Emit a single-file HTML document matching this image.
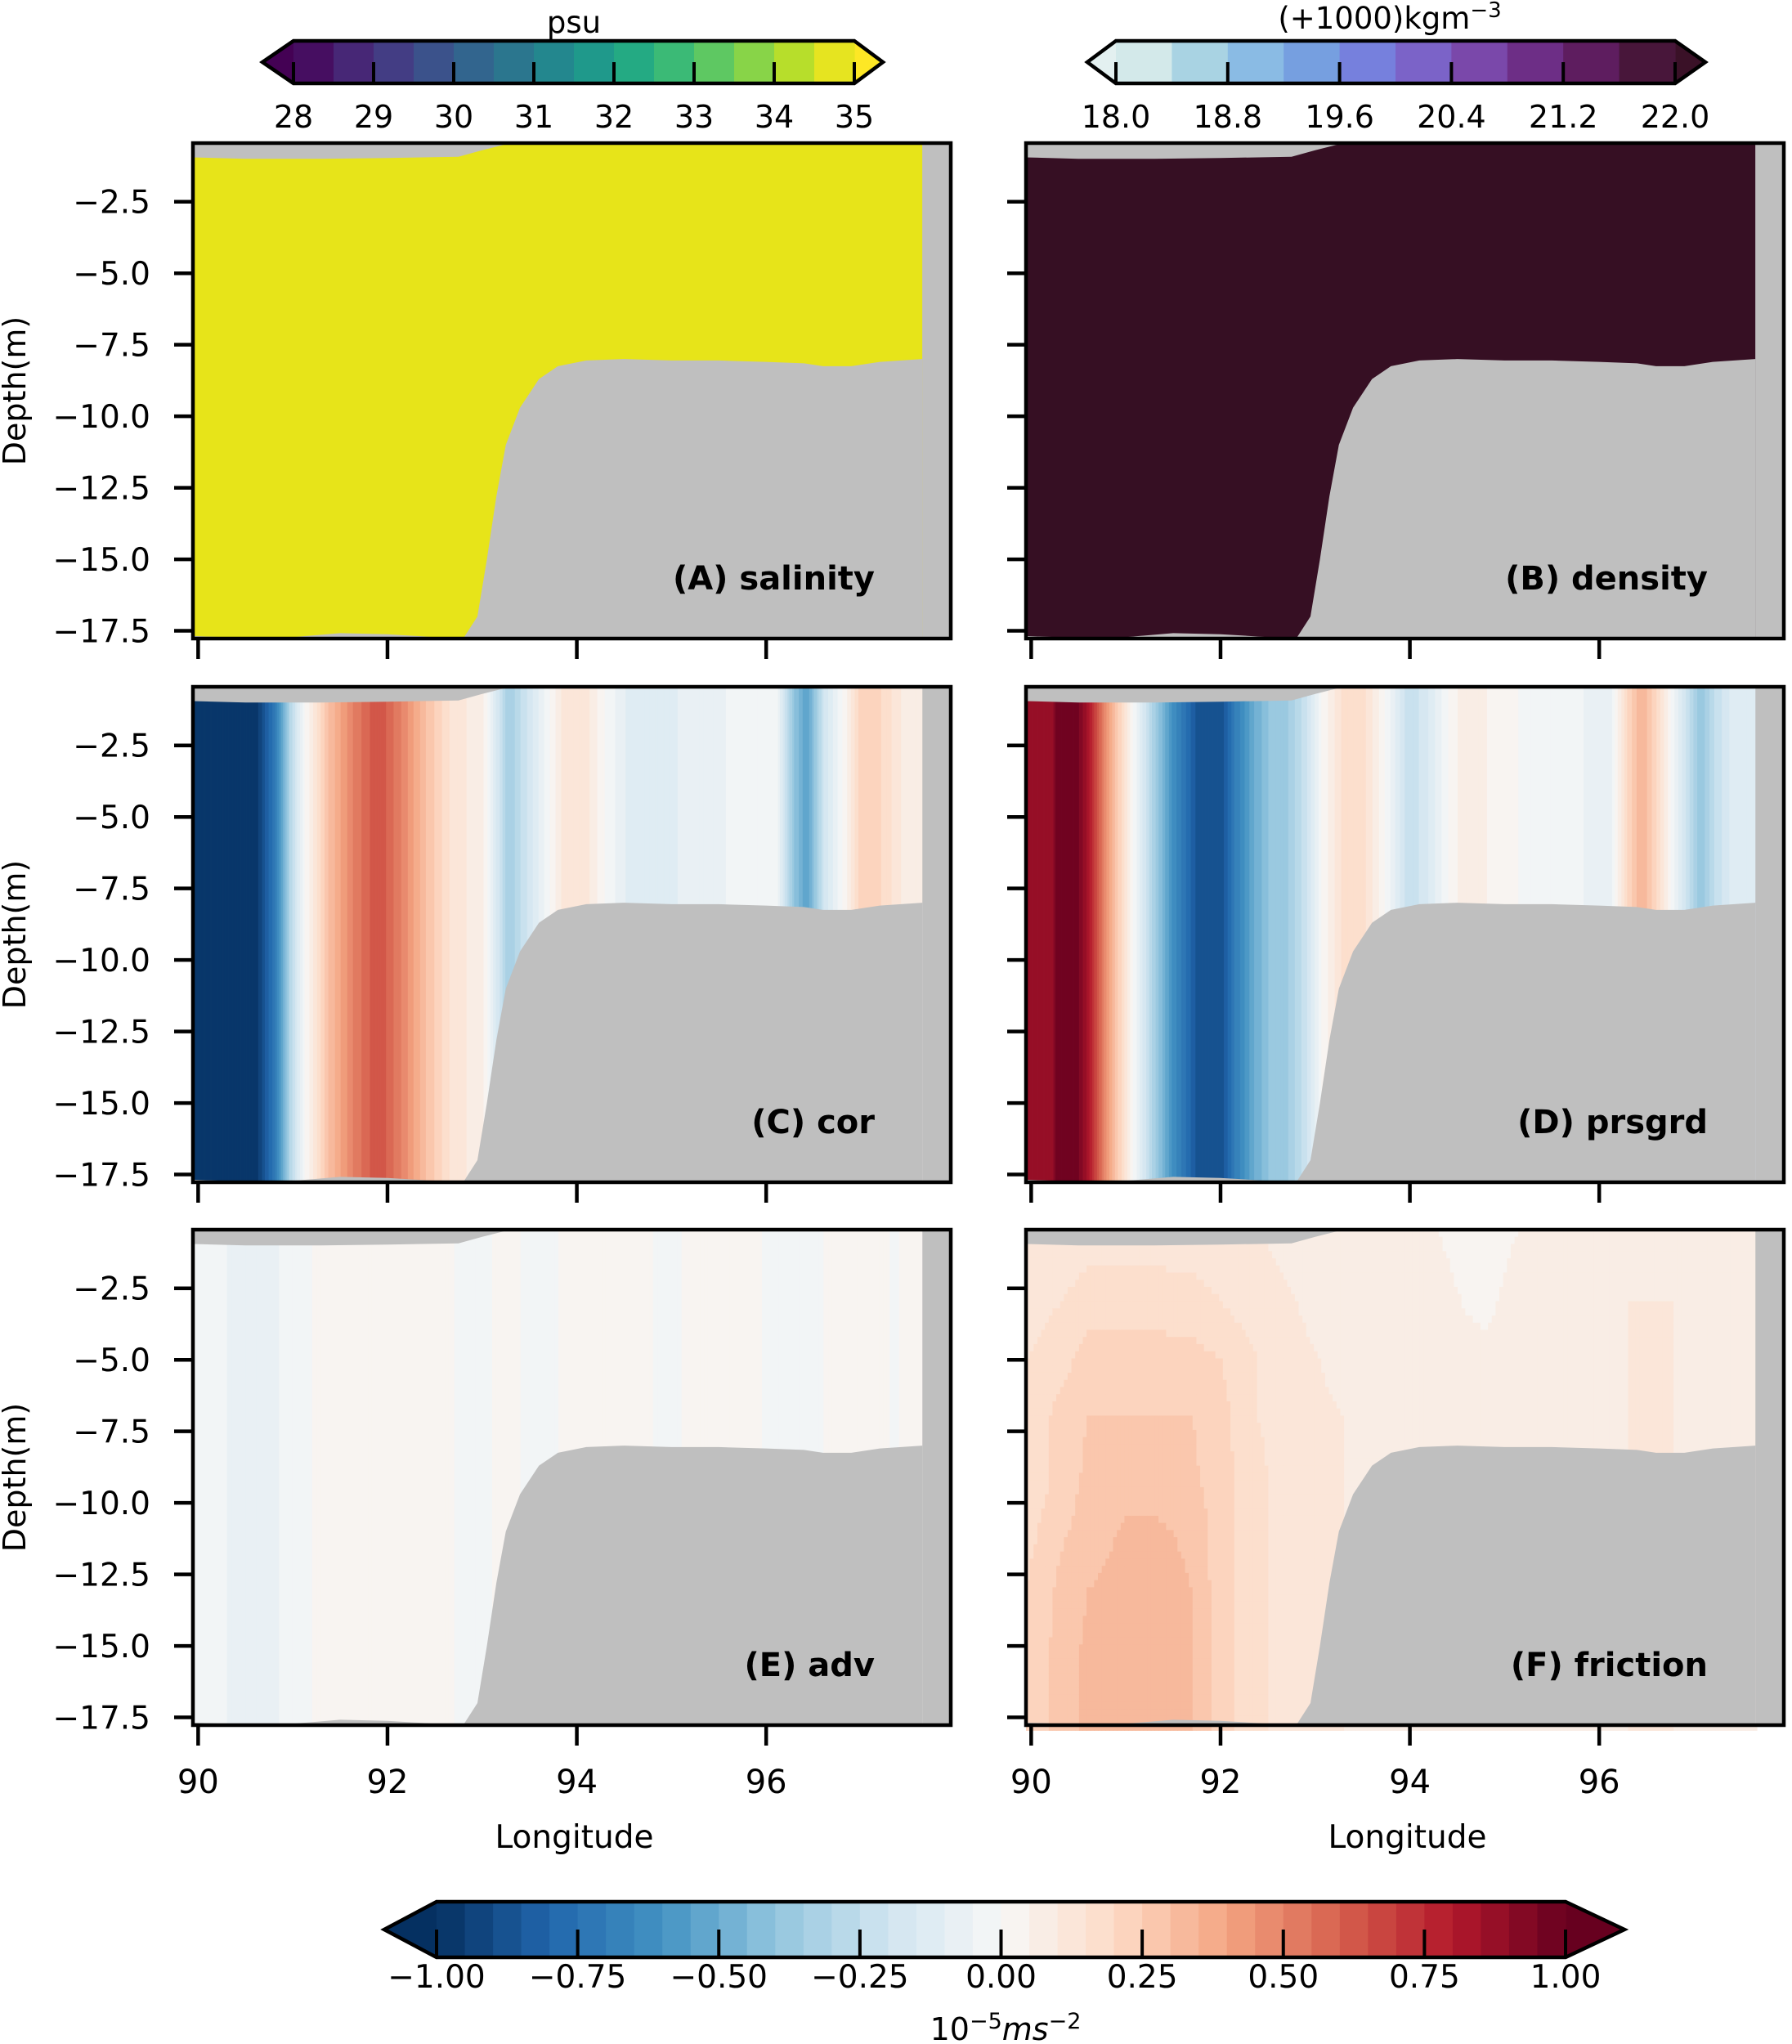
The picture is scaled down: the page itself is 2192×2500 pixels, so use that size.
<!DOCTYPE html>
<html><head><meta charset="utf-8"><style>
html,body{margin:0;padding:0;background:#fff}
svg{display:block;font-family:"DejaVu Sans","Liberation Sans",sans-serif}
</style></head><body>
<svg id="fig" width="2192" height="2500" viewBox="0 0 2192 2500" xmlns="http://www.w3.org/2000/svg"></svg>
<script>
// ---- data ----
const lonTicks=[90,92,94,96];
const depthTicks=[-2.5,-5.0,-7.5,-10.0,-12.5,-15.0,-17.5];
const salTicks=[28,29,30,31,32,33,34,35];
const denTicks=["18.0","18.8","19.6","20.4","21.2","22.0"];
const momTicks=["\u22121.00","\u22120.75","\u22120.50","\u22120.25","0.00","0.25","0.50","0.75","1.00"];
const surfLon=[89.945,90.5,91.3,92.0,92.75,93.0,93.3];
const surfDepth=[-0.95,-1.0,-1.0,-0.97,-0.93,-0.7,-0.45];
const bathyLon=[89.945,90.5,91.0,91.5,92.0,92.5,92.8,92.95,93.05,93.15,93.25,93.4,93.6,93.8,94.1,94.5,95.0,95.5,96.0,96.4,96.6,96.9,97.2,97.65];
const bathyDepth=[-17.68,-17.75,-17.72,-17.58,-17.62,-17.72,-17.77,-17.0,-15.0,-12.8,-11.0,-9.7,-8.7,-8.25,-8.05,-8.0,-8.05,-8.05,-8.1,-8.15,-8.25,-8.25,-8.1,-8.0];
const salinityValue=35.2;
const densityValue=22.3;
const corLon=[89.95,90.6,90.82,90.97,91.13,91.38,91.64,91.9,92.15,92.41,92.66,93.02,93.28,93.54,93.84,94.05,94.3,94.56,95.07,95.58,96.1,96.3,96.43,96.61,96.81,97.02,97.22,97.43,97.65];
const corVal=[-1.0,-1.0,-0.7,-0.3,0.0,0.3,0.5,0.65,0.5,0.3,0.15,0.05,-0.35,-0.15,0.1,0.15,0.0,-0.12,-0.1,-0.05,0.0,-0.4,-0.55,-0.2,0.0,0.25,0.2,0.1,0.08];
const prsLon=[89.95,90.21,90.26,90.51,90.62,90.77,90.92,91.08,91.28,91.49,91.74,92.0,92.15,92.36,92.51,92.72,92.92,93.07,93.28,93.54,93.74,94.0,94.2,94.41,94.56,95.07,95.33,95.58,95.84,96.1,96.3,96.45,96.61,96.76,96.92,97.07,97.22,97.38,97.65];
const prsVal=[0.85,0.85,0.95,0.95,0.8,0.5,0.25,0.0,-0.3,-0.6,-0.85,-0.9,-0.7,-0.5,-0.4,-0.35,-0.2,0.0,0.15,0.15,0.0,-0.25,-0.15,0.0,0.08,0.02,-0.05,-0.02,-0.05,-0.1,0.2,0.35,0.2,0.0,-0.2,-0.4,-0.25,-0.15,-0.15];
const advLon=[89.95,90.3,90.31,90.85,90.86,91.2,91.21,92.7,92.71,93.1,93.11,93.4,93.41,93.8,93.81,94.8,94.81,95.1,95.11,95.95,95.96,96.6,96.61,97.3,97.31,97.4,97.41,97.65];
const advVal=[-0.03,-0.03,-0.07,-0.07,-0.03,-0.03,0.02,0.02,-0.02,-0.02,0.02,0.02,-0.02,-0.02,0.02,0.02,-0.02,-0.02,0.02,0.02,-0.02,-0.02,0.02,0.02,-0.02,-0.02,0.02,0.02];
const friLon=[89.95,90.3,90.6,91.0,91.3,91.7,92.0,92.4,92.8,93.3,93.8,94.3,94.8,95.3,95.8,96.3,96.8,97.3,97.65];
const friDepth=[-0.5,-3,-5,-7,-9,-11,-13,-15,-17.8];
const friRow0=[0.10,0.10,0.12,0.12,0.12,0.12,0.12,0.10,0.08,0.05,0.06,0.05,0.03,0.06,0.08,0.08,0.10,0.10,0.08];
const friRow1=[0.12,0.15,0.18,0.18,0.18,0.17,0.15,0.12,0.10,0.05,0.07,0.06,0.04,0.08,0.08,0.10,0.10,0.08,0.08];
const friRow2=[0.15,0.18,0.22,0.22,0.22,0.22,0.20,0.15,0.12,0.08,0.08,0.06,0.06,0.08,0.08,0.10,0.10,0.08,0.08];
const friRow3=[0.15,0.22,0.25,0.25,0.25,0.25,0.22,0.15,0.12,0.10,0.08,0.07,0.08,0.08,0.08,0.10,0.10,0.08,0.08];
const friRow4=[0.15,0.22,0.26,0.27,0.27,0.26,0.22,0.16,0.12,0.10,0.08,0.07,0.08,0.08,0.08,0.10,0.10,0.08,0.08];
const friRow5=[0.18,0.24,0.27,0.31,0.31,0.29,0.22,0.16,0.12,0.10,0.08,0.07,0.08,0.08,0.08,0.10,0.10,0.08,0.08];
const friRow6=[0.20,0.26,0.30,0.32,0.32,0.30,0.22,0.16,0.12,0.10,0.08,0.07,0.08,0.08,0.08,0.10,0.10,0.08,0.08];
const friRow7=[0.20,0.27,0.31,0.32,0.32,0.30,0.22,0.16,0.12,0.10,0.08,0.07,0.08,0.08,0.08,0.10,0.10,0.08,0.08];
const friRow8=[0.20,0.27,0.31,0.31,0.31,0.30,0.22,0.16,0.12,0.10,0.08,0.07,0.08,0.08,0.08,0.10,0.10,0.08,0.08];
const friGrid=[friRow0,friRow1,friRow2,friRow3,friRow4,friRow5,friRow6,friRow7,friRow8];

// ---- helpers ----
const NS="http://www.w3.org/2000/svg";
const svg=document.getElementById('fig');
function el(tag,attrs,parent){const e=document.createElementNS(NS,tag);for(const k in attrs)e.setAttribute(k,attrs[k]);(parent||svg).appendChild(e);return e;}
function hex(h){return [parseInt(h.substr(1,2),16),parseInt(h.substr(3,2),16),parseInt(h.substr(5,2),16)];}
function lerpStops(stops,t){t=Math.max(0,Math.min(1,t));const n=stops.length-1;const i=Math.min(n-1,Math.floor(t*n));const f=t*n-i;const a=hex(stops[i]),b=hex(stops[i+1]);return 'rgb('+a.map((v,k)=>Math.round(v+(b[k]-v)*f)).join(',')+')';}
const rdbu=['#053061','#2166ac','#4393c3','#92c5de','#d1e5f0','#f7f7f7','#fddbc7','#f4a582','#d6604d','#b2182b','#67001f'];
function momColor(v){const nb=40;let b=Math.floor((v+1)/2*nb);if(v<-1)return '#053061';if(v>1)return '#67001f';b=Math.max(0,Math.min(nb-1,b));return lerpStops(rdbu,(b+0.5)/nb);}
const viridis=['#440154','#481a6c','#472f7d','#414487','#39568c','#31688e','#2a788e','#23888e','#1f988b','#22a884','#35b779','#54c568','#7ad151','#a5db36','#d2e21b','#fde725'];
const dense=['#d3e9ea','#a9d3e3','#8abbe4','#769fe0','#7680dd','#7b63c8','#7a48aa','#6d2e86','#5e1d5f','#48163a'];
function interp(xs,ys,x){if(x<=xs[0])return ys[0];for(let i=1;i<xs.length;i++){if(x<=xs[i]){const f=(x-xs[i-1])/(xs[i]-xs[i-1]||1);return ys[i-1]+(ys[i]-ys[i-1])*f;}}return ys[ys.length-1];}

const lonMin=89.945,lonMax=97.95,dTop=-0.45,dBot=-17.77,waterEnd=97.65;
const W=927,H=606;
const colX=[236,1255],rowY=[175,840,1504];
function axes(x0,y0){return {px:lon=>x0+(lon-lonMin)/(lonMax-lonMin)*W,py:d=>y0+(dTop-d)/(dTop-dBot)*H};}

function panel(ci,ri,name,label,fill,showX){
  const x0=colX[ci],y0=rowY[ri];const a=axes(x0,y0);
  const g=el('g',{});
  
  
  el('rect',{x:x0,y:y0,width:W,height:H,fill:'#bfbfbf'},g);
  const fg=el('g',{},g);
  
  
  fill(fg,a);
  let pts=[[lonMin,dTop]];for(let i=0;i<surfLon.length;i++)pts.push([surfLon[i],surfDepth[i]]);
  const top=el('polygon',{points:pts.map(p=>a.px(p[0])+','+a.py(p[1])).join(' '),fill:'#bfbfbf'},g);
  
  
  let bp=[];for(let i=0;i<bathyLon.length;i++)bp.push([bathyLon[i],bathyDepth[i]]);bp.push([waterEnd,dBot],[lonMin,dBot]);
  const bot=el('polygon',{points:bp.map(p=>a.px(p[0])+','+a.py(p[1])).join(' '),fill:'#bfbfbf'},g);
  
  
  el('rect',{x:a.px(waterEnd),y:y0,width:x0+W-a.px(waterEnd),height:H,fill:'#bfbfbf'},g);
  el('rect',{x:x0,y:y0,width:W,height:H,fill:'none',stroke:'#000','stroke-width':4.5},g);
  depthTicks.forEach(d=>{
    el('line',{x1:x0-23,x2:x0,y1:a.py(d),y2:a.py(d),stroke:'#000','stroke-width':4.5},g);
    if(ci===0){const t=el('text',{x:x0-52,y:a.py(d)+14,'text-anchor':'end','font-size':39},g);t.textContent=d.toFixed(1).replace('-','\u2212');
      }
  });
  lonTicks.forEach(l=>{
    el('line',{x1:a.px(l),x2:a.px(l),y1:y0+H,y2:y0+H+25,stroke:'#000','stroke-width':4.5},g);
    if(showX){const t=el('text',{x:a.px(l),y:y0+H+83,'text-anchor':'middle','font-size':40},g);t.textContent=l;
      }
  });
  if(ci===0){const t=el('text',{x:0,y:0,'text-anchor':'middle','font-size':38,transform:'translate(31,'+(y0+H/2)+') rotate(-90)'},g);t.textContent='Depth(m)';
    }
  if(showX){const t=el('text',{x:x0+W/2+3,y:y0+H+150,'text-anchor':'middle','font-size':39},g);t.textContent='Longitude';
    }
  const lt=el('text',{x:x0+834,y:y0+546,'text-anchor':'end','font-size':40,'font-weight':'bold'},g);lt.textContent=label;
  
}
function solid(color){return (g,a)=>{el('rect',{x:a.px(lonMin),y:a.py(dTop),width:a.px(waterEnd)-a.px(lonMin),height:H,fill:color},g);};}
function stripes(lons,vals){return (g,a)=>{const step=0.01;for(let l=lonMin;l<waterEnd;l+=step){const v=interp(lons,vals,l+step/2);
  el('rect',{x:a.px(l),y:a.py(dTop),width:a.px(l+step)-a.px(l)+0.6,height:H,fill:momColor(v)},g);}};}
function grid2d(lons,deps,gridRows){return (g,a)=>{const sl=0.04,sd=0.25;for(let l=lonMin;l<waterEnd;l+=sl){
  const col=gridRows.map(r=>interp(lons,r,l+sl/2));
  for(let d=dTop;d>dBot;d-=sd){const v=interp(deps.map(x=>-x),col,-(d-sd/2));
    el('rect',{x:a.px(l),y:a.py(d),width:a.px(l+sl)-a.px(l)+0.6,height:a.py(d-sd)-a.py(d)+0.6,fill:momColor(v)},g);}}};}

panel(0,0,'salinity','(A) salinity',solid(salinityValue>=35?'#e7e419':lerpStops(viridis,(salinityValue-28)/7)),false);
panel(1,0,'density','(B) density',solid(densityValue>22?'#360f23':'#48163a'),false);
panel(0,1,'cor','(C) cor',stripes(corLon,corVal),false);
panel(1,1,'prsgrd','(D) prsgrd',stripes(prsLon,prsVal),false);
panel(0,2,'adv','(E) adv',stripes(advLon,advVal),true);
panel(1,2,'friction','(F) friction',grid2d(friLon,friDepth,friGrid),true);

// ---- colorbars ----
function colorbar(name,x1,x2,tipL,tipR,y1,y2,nb,colorFn,lowC,highC,ticks,tickFs,labelY){
  const g=el('g',{});
  
  
  const ym=(y1+y2)/2;
  el('polygon',{points:`${x1},${y1} ${tipL},${ym} ${x1},${y2}`,fill:lowC},g);
  el('polygon',{points:`${x2},${y1} ${tipR},${ym} ${x2},${y2}`,fill:highC},g);
  const bw=(x2-x1)/nb;
  for(let i=0;i<nb;i++)el('rect',{x:x1+i*bw,y:y1,width:bw+0.6,height:y2-y1,fill:colorFn(i)},g);
  el('polygon',{points:`${x1},${y1} ${x2},${y1} ${tipR},${ym} ${x2},${y2} ${x1},${y2} ${tipL},${ym}`,fill:'none',stroke:'#000','stroke-width':4.5},g);
  const n=ticks.length;
  ticks.forEach((t,i)=>{const x=x1+(x2-x1)*i/(n-1);
    el('line',{x1:x,x2:x,y1:ym,y2:y2,stroke:'#000','stroke-width':4},g);
    const tx=el('text',{x:x,y:labelY,'text-anchor':'middle','font-size':tickFs},g);tx.textContent=t;
    });
  return g;
}
const cb1=colorbar('salinity-colorbar',359,1045,321,1080,50,102,14,i=>lerpStops(viridis,(i+0.5)/14),'#440154','#fde725',salTicks,38,156);
let t=el('text',{x:702,y:40,'text-anchor':'middle','font-size':37},cb1);t.textContent='psu';

const cb2=colorbar('density-colorbar',1365,2049,1330,2086,50,102,10,i=>dense[i],'#e3f0f0','#3a1127',denTicks,38,156);
t=el('text',{x:1700,y:35,'text-anchor':'middle','font-size':37},cb2);t.innerHTML='(+1000)kgm<tspan dy="-14" font-size="26">\u22123</tspan>';

const cb3=colorbar('momentum-colorbar',534,1915,470,1987,2326,2394,40,i=>lerpStops(rdbu,(i+0.5)/40),'#053061','#67001f',momTicks,39,2431);
t=el('text',{x:1230,y:2495,'text-anchor':'middle','font-size':38},cb3);t.innerHTML='10<tspan dy="-14" font-size="27">\u22125</tspan><tspan dy="14" font-style="italic">ms</tspan><tspan dy="-14" font-size="27">\u22122</tspan>';

</script>
</body></html>
